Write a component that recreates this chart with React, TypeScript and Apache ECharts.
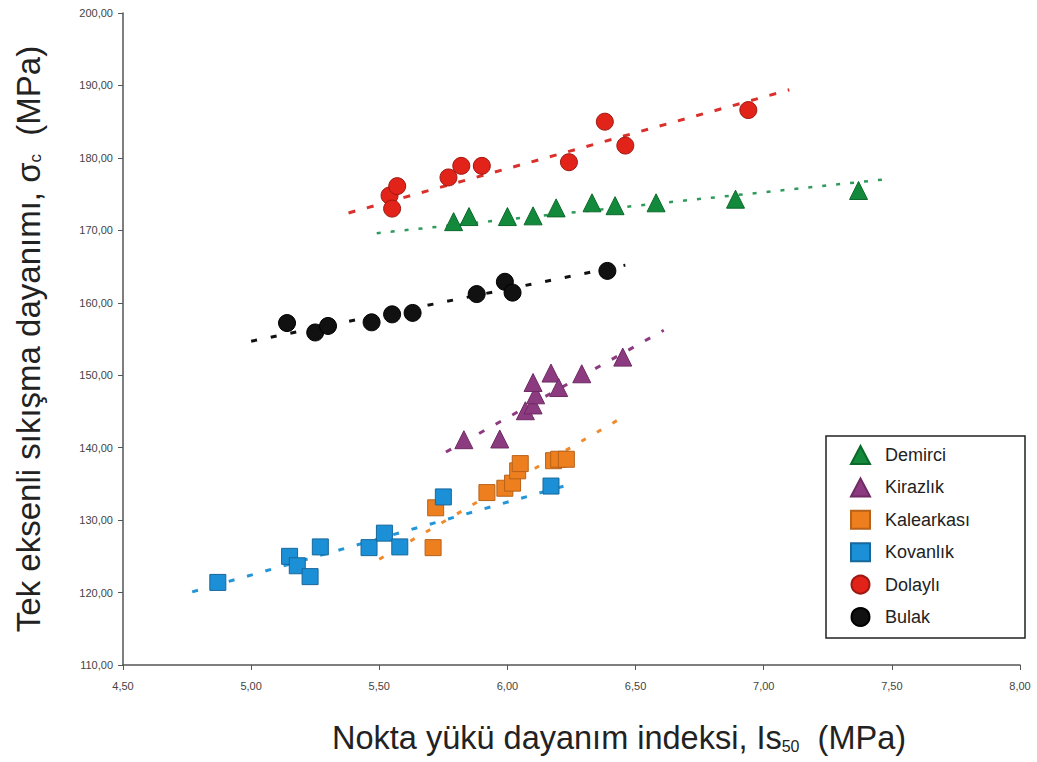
import React, { useEffect, useRef } from "react";
import * as echarts from "echarts";

// Is50 (MPa), σc (MPa) per site
const demirciX = [5.79, 5.85, 6.0, 6.1, 6.19, 6.33, 6.42, 6.58, 6.89, 7.37];
const demirciY = [171.2, 171.9, 171.9, 172.0, 173.1, 173.8, 173.4, 173.8, 174.3, 175.5];

const kirazlikX = [5.83, 5.97, 6.07, 6.1, 6.11, 6.1, 6.17, 6.2, 6.29, 6.45];
const kirazlikY = [141.1, 141.2, 145.1, 145.9, 147.3, 149.0, 150.3, 148.3, 150.2, 152.5];

const kalearkasiX = [5.72, 5.71, 5.92, 5.99, 6.02, 6.04, 6.05, 6.18, 6.2, 6.23];
const kalearkasiY = [131.7, 126.2, 133.8, 134.4, 135.1, 136.8, 137.8, 138.2, 138.4, 138.4];

const kovanlikX = [4.87, 5.15, 5.18, 5.23, 5.27, 5.46, 5.52, 5.58, 5.75, 6.17];
const kovanlikY = [121.4, 125.0, 123.7, 122.2, 126.3, 126.2, 128.2, 126.3, 133.2, 134.7];

const dolayliX = [5.54, 5.55, 5.57, 5.77, 5.82, 5.9, 6.24, 6.38, 6.46, 6.94];
const dolayliY = [174.8, 173.0, 176.1, 177.3, 178.9, 178.9, 179.4, 185.0, 181.7, 186.6];

const bulakX = [5.14, 5.25, 5.3, 5.47, 5.55, 5.63, 5.88, 5.99, 6.02, 6.39];
const bulakY = [157.2, 155.9, 156.8, 157.3, 158.4, 158.6, 161.2, 162.9, 161.4, 164.4];

// trend line end points [x, y]
const demirciTrend = [[5.49, 169.6], [7.49, 177.1]];
const kirazlikTrend = [[5.76, 139.4], [6.61, 156.2]];
const kalearkasiTrend = [[5.5, 124.6], [6.44, 144.0]];
const kovanlikTrend = [[4.77, 120.1], [6.26, 135.1]];
const dolayliTrend = [[5.38, 172.4], [7.1, 189.4]];
const bulakTrend = [[5.0, 154.7], [6.46, 165.2]];

const seriesNames = ["Demirci", "Kirazlık", "Kalearkası", "Kovanlık", "Dolaylı", "Bulak"];

const pair = (xs: number[], ys: number[]) => xs.map((x, i) => [x, ys[i]]);
const fmt = (v: number) => v.toFixed(2).replace(".", ",");

export default function App() {
  const ref = useRef<HTMLDivElement>(null);
  useEffect(() => {
    if (!ref.current) return;
    const chart = echarts.init(ref.current, null, { renderer: "svg" });

    const scatterDefs = [
      { name: seriesNames[0], data: pair(demirciX, demirciY), symbol: "triangle", size: 18, color: "#13893b", border: "#0b6a2b" },
      { name: seriesNames[1], data: pair(kirazlikX, kirazlikY), symbol: "triangle", size: 18, color: "#8d3b80", border: "#6e2a63" },
      { name: seriesNames[2], data: pair(kalearkasiX, kalearkasiY), symbol: "rect", size: 16, color: "#ee7f1f", border: "#b8621a" },
      { name: seriesNames[3], data: pair(kovanlikX, kovanlikY), symbol: "rect", size: 16, color: "#1b90d7", border: "#17679c" },
      { name: seriesNames[4], data: pair(dolayliX, dolayliY), symbol: "circle", size: 17, color: "#e2231a", border: "#9e1711" },
      { name: seriesNames[5], data: pair(bulakX, bulakY), symbol: "circle", size: 17, color: "#111111", border: "#000000" },
    ];

    const trendDefs = [
      { data: demirciTrend, color: "#2f9a5c", dash: [4, 10], width: 2.5 },
      { data: kirazlikTrend, color: "#8d3b80", dash: [6, 13], width: 3 },
      { data: kalearkasiTrend, color: "#ef8a2e", dash: [5, 13], width: 3 },
      { data: kovanlikTrend, color: "#2496d8", dash: [6, 13], width: 3 },
      { data: dolayliTrend, color: "#d9302b", dash: [7, 12], width: 3 },
      { data: bulakTrend, color: "#111111", dash: [6, 14], width: 3 },
    ];

    const series: any[] = [];
    trendDefs.forEach((t) => {
      series.push({
        type: "line",
        data: t.data,
        showSymbol: false,
        symbol: "none",
        silent: true,
        lineStyle: { color: t.color, width: t.width, type: t.dash },
        z: 1,
      });
    });
    scatterDefs.forEach((s) => {
      series.push({
        type: "scatter",
        name: s.name,
        data: s.data,
        symbol: s.symbol,
        symbolSize: s.size,
        itemStyle: { color: s.color, borderColor: s.border, borderWidth: 1, opacity: 1 },
        z: 3,
      });
    });

    chart.setOption({
      animation: false,
      backgroundColor: "#ffffff",
      grid: { left: 123, right: 17, top: 13, bottom: 97 },
      xAxis: {
        type: "value",
        min: 4.5,
        max: 8,
        interval: 0.5,
        splitLine: { show: false },
        axisLine: { show: true, onZero: false, lineStyle: { color: "#555", width: 1.5 } },
        axisTick: { show: true, length: 5, lineStyle: { color: "#555" } },
        axisLabel: { formatter: fmt, color: "#444", fontSize: 11, margin: 15, fontFamily: "Liberation Sans" },
      },
      yAxis: {
        type: "value",
        min: 110,
        max: 200,
        interval: 10,
        splitLine: { show: false },
        axisLine: { show: true, onZero: false, lineStyle: { color: "#555", width: 1.5 } },
        axisTick: { show: true, length: 5, lineStyle: { color: "#555" } },
        axisLabel: { formatter: fmt, color: "#444", fontSize: 11, margin: 10, fontFamily: "Liberation Sans" },
      },
      legend: {
        data: seriesNames,
        orient: "vertical",
        left: 845,
        top: 440,
        itemWidth: 19,
        itemHeight: 18,
        itemGap: 12.4,
        textStyle: { fontSize: 18, color: "#222", fontFamily: "Liberation Sans", padding: [0, 0, 0, 10] },
      },
      graphic: [
        {
          type: "rect",
          shape: { x: 826, y: 436, width: 199, height: 202 },
          style: { fill: "none", stroke: "#222", lineWidth: 1.5 },
          z: 0,
        },
        {
          type: "text",
          x: 619,
          y: 738,
          style: {
            text: "{a|Nokta yükü dayanım indeksi, Is}{s|50}{a|  (MPa)}",
            align: "center",
            verticalAlign: "middle",
            rich: {
              a: { fontSize: 32.5, fontFamily: "Liberation Sans", fill: "#222" },
              s: { fontSize: 16, fontFamily: "Liberation Sans", fill: "#222", padding: [17, 0, 0, 0] },
            },
          },
        },
        {
          type: "text",
          x: 28,
          y: 339,
          rotation: Math.PI / 2,
          style: {
            text: "{a|Tek eksenli sıkışma dayanımı, σ}{s|c}{a|  (MPa)}",
            align: "center",
            verticalAlign: "middle",
            rich: {
              a: { fontSize: 33, fontFamily: "Liberation Sans", fill: "#222" },
              s: { fontSize: 17, fontFamily: "Liberation Sans", fill: "#222", padding: [15, 0, 0, 0] },
            },
          },
        },
      ],
      series,
    });
    return () => chart.dispose();
  }, []);
  return <div ref={ref} style={{ width: 1037, height: 762, position: "absolute", left: 0, top: 0 }} />;
}
